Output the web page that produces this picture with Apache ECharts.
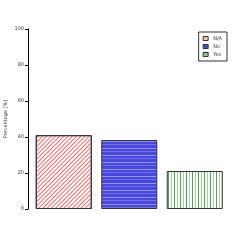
<!DOCTYPE html>
<html>
<head>
<meta charset="utf-8">
<script src="https://cdn.jsdelivr.net/npm/echarts@6/dist/echarts.min.js"></script>
<style>
  html, body { margin: 0; padding: 0; background: #fff; }
  #chart { width: 245px; height: 245px; }
</style>
</head>
<body>
<div id="chart"></div>
<script>
const categories = ['N/A', 'No', 'Yes'];
const values = [41, 38.3, 21.1];
const yTicks = [0, 20, 40, 60, 80, 100];

// small canvas tiles used as fill patterns
function tile(w, h, draw) {
  const c = document.createElement('canvas');
  c.width = w; c.height = h;
  const g = c.getContext('2d');
  draw(g);
  return c;
}

const blueStripes = tile(4, 7, g => {
  g.fillStyle = '#4848e0';
  g.fillRect(0, 0, 4, 7);
  g.fillStyle = '#9494ee';
  g.fillRect(0, 1, 4, 1);
  g.fillStyle = '#7070e8';
  g.fillRect(0, 4, 4, 1);
});

const greenLines = tile(6, 4, g => {
  g.fillStyle = '#ffffff';
  g.fillRect(0, 0, 6, 4);
  g.fillStyle = '#52a452';
  g.fillRect(0, 0, 1, 4);
  g.fillStyle = '#a4d4a4';
  g.fillRect(3, 0, 1, 4);
});

const styles = [
  {
    color: '#ffffff',
    decal: {
      symbol: 'rect', symbolSize: 1, color: '#f26a6a',
      dashArrayX: [1, 0], dashArrayY: [1, 2], rotation: -Math.PI / 4
    }
  },
  { color: { image: blueStripes, repeat: 'repeat' } },
  { color: { image: greenLines, repeat: 'repeat' } }
];
const legendColors = ['#f6c0c0', '#4848e0', '#8cc48c'];

const series = categories.map((name, i) => ({
  name: name,
  type: 'bar',
  stack: 'all',
  barWidth: 56,
  data: categories.map((_, j) => (j === i ? values[i] : '-')),
  itemStyle: Object.assign({ borderColor: '#333', borderWidth: 1 }, styles[i]),
  emphasis: { disabled: true }
}));

const chart = echarts.init(document.getElementById('chart'), null, { renderer: 'canvas' });
chart.setOption({
  animation: false,
  grid: { left: 31, right: 17.5, top: 29, bottom: 36, outerBoundsMode: 'none', containLabel: false },
  legend: {
    data: categories.map((name, i) => ({
      name: name,
      itemStyle: { color: legendColors[i], borderColor: '#333', borderWidth: 1, decal: 'none' }
    })),
    orient: 'vertical',
    right: 18,
    top: 32,
    icon: 'rect',
    itemWidth: 5,
    itemHeight: 4,
    itemGap: 3,
    padding: [4, 5, 4, 4],
    borderColor: '#333',
    borderWidth: 1,
    textStyle: { fontSize: 5, color: '#333', fontFamily: 'DejaVu Sans' }
  },
  xAxis: {
    type: 'category',
    data: categories,
    show: false
  },
  yAxis: {
    type: 'value',
    min: 0,
    max: 100,
    interval: 20,
    offset: 3,
    name: 'Percentage [%]',
    nameLocation: 'middle',
    nameGap: 20,
    nameMoveOverlap: false,
    nameTextStyle: { fontSize: 5, color: '#333', fontFamily: 'DejaVu Sans' },
    axisLine: { show: true, lineStyle: { color: '#000', width: 1 } },
    axisTick: { show: true, length: 3, lineStyle: { color: '#000' } },
    axisLabel: {
      fontSize: 5, color: '#333', margin: 4, fontFamily: 'DejaVu Sans',
      formatter: v => (yTicks.includes(v) ? String(v) : '')
    },
    splitLine: { show: false }
  },
  series: series
});
</script>
</body>
</html>
